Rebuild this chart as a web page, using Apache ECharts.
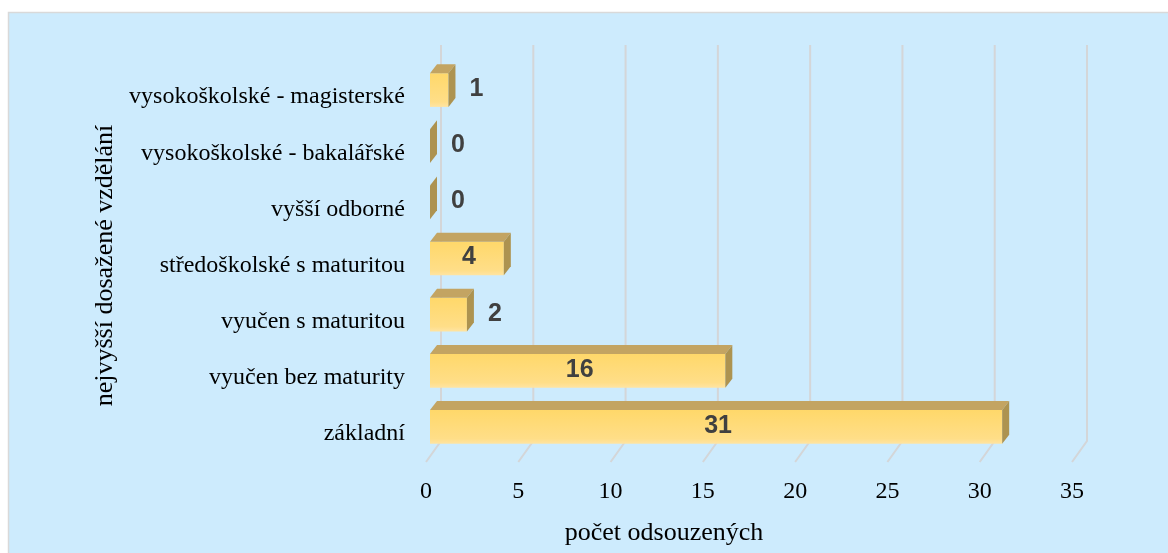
<!DOCTYPE html>
<html>
<head>
<meta charset="utf-8">
<script src="https://cdn.jsdelivr.net/npm/echarts@6/dist/echarts.min.js"></script>
<style>
html,body{margin:0;padding:0;background:#ffffff;}
#chart{width:1168px;height:553px;}
</style>
</head>
<body>
<div id="chart"></div>
<script>
// ---- data ----
const categories = [
  'základní',
  'vyučen bez maturity',
  'vyučen s maturitou',
  'středoškolské s maturitou',
  'vyšší odborné',
  'vysokoškolské - bakalářské',
  'vysokoškolské - magisterské'
];
const counts = [31, 16, 2, 4, 0, 0, 1];
const xTicks = [0, 5, 10, 15, 20, 25, 30, 35];
const xAxisTitle = 'počet odsouzených';
const yAxisTitle = 'nejvyšší dosažené vzdělání';

// ---- chart ----
const chart = echarts.init(document.getElementById('chart'), null, {renderer: 'canvas'});

const DEPTH_X = 15, DEPTH_Y = 21;     // back wall offset
const BAR_OX = 4, BAR_OY = -7;        // bar front face offset from front plane
const BAR_DX = 7, BAR_DY = 9;         // bar depth

function renderGrid(params, api) {
  const v = api.value(0);
  const cs = params.coordSys;
  const p = api.coord([v, 0]);
  const x = p[0];
  const bottom = cs.y + cs.height;
  const top = cs.y;
  return {
    type: 'polyline',
    shape: {points: [[x + DEPTH_X, top - DEPTH_Y - 3], [x + DEPTH_X, bottom - DEPTH_Y], [x, bottom]]},
    style: {stroke: '#d4d6d8', lineWidth: 2, fill: null},
    silent: true
  };
}

function renderBar(params, api) {
  const v = api.value(0);
  const ci = api.value(1);
  const c = api.coord([0, ci]);
  const e = api.coord([v, ci]);
  const band = api.size([0, 1])[1];
  const h = band * 0.6;
  const x0 = c[0] + BAR_OX;
  const x1 = e[0] + BAR_OX;
  const yt = c[1] + BAR_OY - h / 2;
  const yb = yt + h;
  const children = [];
  if (x1 - x0 > 0.5) {
    children.push({
      type: 'rect',
      shape: {x: x0, y: yt, width: x1 - x0, height: h},
      style: {
        fill: new echarts.graphic.LinearGradient(0, 0, 0, 1, [
          {offset: 0, color: '#ffd86a'},
          {offset: 0.85, color: '#ffde88'},
          {offset: 1, color: '#ffe4a2'}
        ])
      }
    });
    children.push({
      type: 'polygon',
      shape: {points: [[x0, yt], [x1, yt], [x1 + BAR_DX, yt - BAR_DY], [x0 + BAR_DX, yt - BAR_DY]]},
      style: {fill: '#c3a462'}
    });
  }
  children.push({
    type: 'polygon',
    shape: {points: [[x1, yt], [x1 + BAR_DX, yt - BAR_DY], [x1 + BAR_DX, yb - BAR_DY], [x1, yb]]},
    style: {fill: '#ad9350'}
  });
  const inside = (x1 - x0) > 55;
  children.push({
    type: 'text',
    style: {
      text: String(v),
      x: inside ? (x0 + x1) / 2 + 2 : x1 + BAR_DX + 14,
      y: (yt + yb) / 2 - 1,
      align: inside ? 'center' : 'left',
      verticalAlign: 'middle',
      fill: '#404040',
      font: 'bold 25px "Liberation Sans", Arial, sans-serif'
    }
  });
  return {type: 'group', children: children};
}

const option = {
  animation: false,
  backgroundColor: '#ffffff',
  graphic: [
    {
      type: 'rect', z: -10, silent: true,
      shape: {x: 8.5, y: 12.5, width: 1170, height: 560},
      style: {fill: '#cdebfd', stroke: '#d9d9d9', lineWidth: 1.5}
    },
    {
      type: 'text', silent: true,
      x: 664, y: 533,
      style: {
        text: xAxisTitle, x: 0, y: 0,
        font: '26px "Liberation Serif", "Times New Roman", serif',
        fill: '#000000', align: 'center', verticalAlign: 'middle'
      }
    }
  ],
  grid: {left: 426, right: 96, top: 69, bottom: 91, containLabel: false},
  xAxis: {
    type: 'value',
    min: 0, max: 35, interval: 5,
    axisLine: {show: false},
    axisTick: {show: false},
    splitLine: {show: false},
    axisLabel: {
      margin: 18,
      color: '#000000',
      fontFamily: '"Liberation Serif", "Times New Roman", serif',
      fontSize: 24
    }
  },
  yAxis: {
    type: 'category',
    data: categories,
    axisLine: {show: false},
    axisTick: {show: false},
    splitLine: {show: false},
    axisLabel: {
      margin: 21,
      color: '#000000',
      fontFamily: '"Liberation Serif", "Times New Roman", serif',
      fontSize: 24
    },
    name: yAxisTitle,
    nameLocation: 'middle',
    nameRotate: 90,
    nameGap: 291,
    nameTextStyle: {
      color: '#000000',
      fontFamily: '"Liberation Serif", "Times New Roman", serif',
      fontSize: 26
    }
  },
  series: [
    {
      type: 'custom',
      renderItem: renderGrid,
      data: xTicks.map(t => [t, 0]),
      encode: {x: 0, y: 1},
      clip: false,
      silent: true,
      z: 1
    },
    {
      type: 'custom',
      renderItem: renderBar,
      data: counts.map((v, i) => [v, i]),
      encode: {x: 0, y: 1},
      clip: false,
      z: 2
    }
  ]
};
chart.setOption(option);
</script>
</body>
</html>
